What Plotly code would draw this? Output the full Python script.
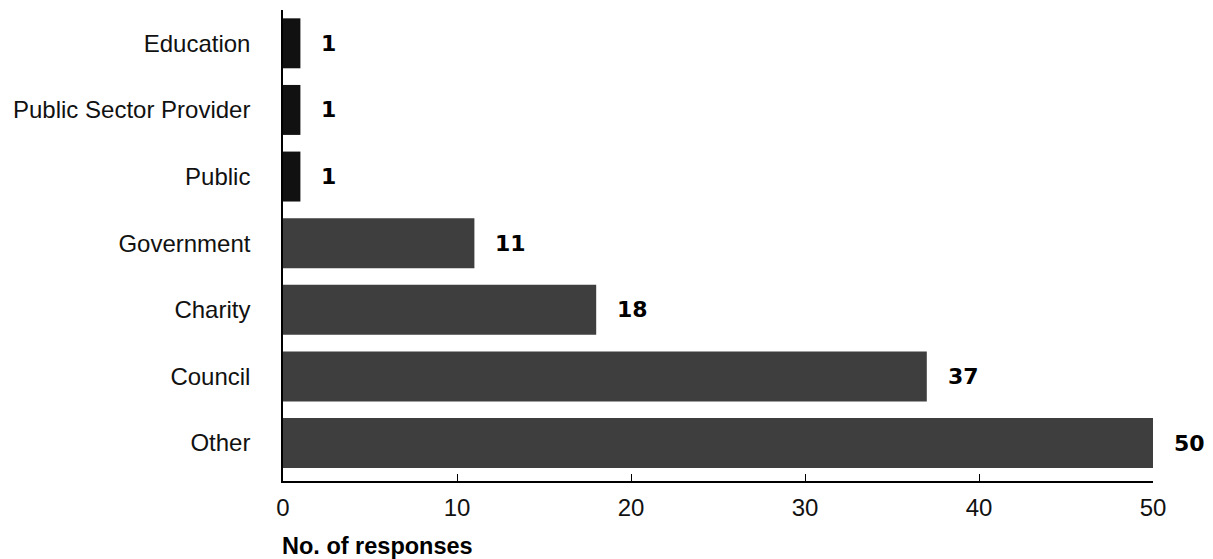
import plotly.graph_objects as go

categories = ["Other", "Council", "Charity", "Government", "Public", "Public Sector Provider", "Education"]
values = [50, 37, 18, 11, 1, 1, 1]
x_ticks = [0, 10, 20, 30, 40, 50]
x_title = "No. of responses"

bar_colors = ["#3e3e3e" if v > 5 else "#111111" for v in values]

fig = go.Figure()
fig.add_trace(go.Bar(
    x=values, y=categories, orientation="h",
    marker=dict(color=bar_colors, line=dict(width=0)),
    width=0.75, hoverinfo="skip",
))

for c, v in zip(categories, values):
    fig.add_annotation(x=v, y=c, text=f"<b>{v}</b>", showarrow=False,
                       xanchor="left", xshift=19, yshift=0,
                       font=dict(family="DejaVu Sans", size=22, color="#000"))

fig.add_annotation(xref="paper", yref="paper", x=-0.004, y=-0.138, xanchor="left", yanchor="middle",
                   text=f"<b>{x_title}</b>", showarrow=False,
                   font=dict(family="Liberation Sans", size=23.5, color="#000"))

fig.update_layout(
    width=1205, height=551,
    margin=dict(l=275, r=60, t=2, b=78, autoexpand=False),
    paper_bgcolor="white", plot_bgcolor="white",
    showlegend=False,
    xaxis=dict(range=[0, 50], tickvals=x_ticks, ticks="inside", ticklen=7, tickcolor="#000",
               showline=True, linecolor="#000", linewidth=1.5, showgrid=False, zeroline=False,
               tickfont=dict(family="Liberation Sans", size=24, color="#111"),
               ticklabelstandoff=4, automargin=False),
    yaxis=dict(categoryorder="array", categoryarray=categories, range=[-0.57, 6.5],
               showline=True, linecolor="#000", linewidth=1.5, showgrid=False, ticks="",
               tickfont=dict(family="Liberation Sans", size=24, color="#111"),
               ticklabelstandoff=26, automargin=False),
)

fig.write_html("out.html")
